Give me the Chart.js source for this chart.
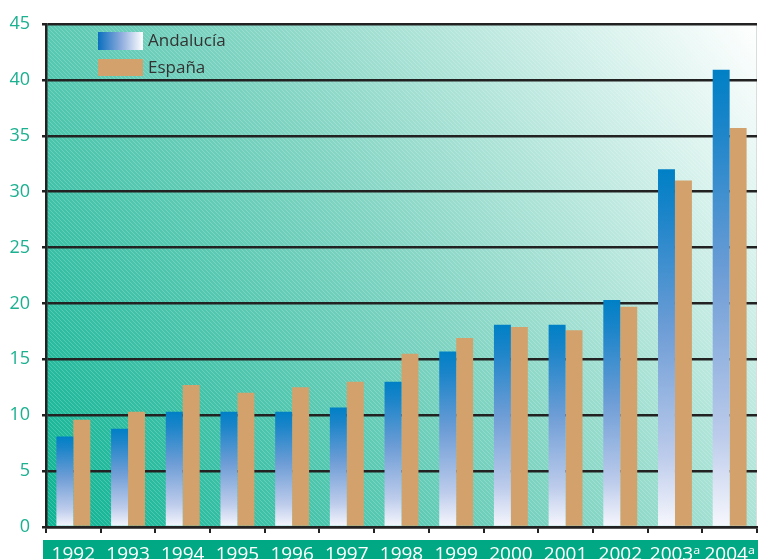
<!DOCTYPE html>
<html>
<head>
<meta charset="utf-8">
<script src="https://cdn.jsdelivr.net/npm/chart.js@4.4.1/dist/chart.umd.min.js"></script>
<style>
html,body{margin:0;padding:0;background:#fff;}
#wrap{width:758px;height:559px;position:relative;}
</style>
</head>
<body>
<div id="wrap"><canvas id="c" width="758" height="559"></canvas></div>
<script>
const years = ['1992','1993','1994','1995','1996','1997','1998','1999','2000','2001','2002','2003ᵃ','2004ᵃ'];
const andalucia = [8.1, 8.8, 10.3, 10.3, 10.3, 10.7, 13.0, 15.7, 18.1, 18.1, 20.3, 32.0, 40.9];
const espana = [9.6, 10.3, 12.7, 12.0, 12.5, 13.0, 15.5, 16.9, 17.9, 17.6, 19.7, 31.0, 35.7];
const yTicks = [0,5,10,15,20,25,30,35,40,45];
const seriesNames = ['Andalucía','España'];

const FONT = '"Open Sans", "Noto Sans", sans-serif';
const TEAL_TXT = '#1bb08f';
const ESP_COLOR = '#d3a26c';

function makePattern() {
  const p = document.createElement('canvas');
  p.width = 4; p.height = 4;
  const g = p.getContext('2d');
  g.strokeStyle = 'rgba(255,255,255,0.2)';
  g.lineWidth = 1;
  g.beginPath();
  g.moveTo(-1,-1); g.lineTo(5,5);
  g.moveTo(-1,3); g.lineTo(1,5);
  g.moveTo(3,-1); g.lineTo(5,1);
  g.stroke();
  return p;
}
const patCanvas = makePattern();

function andGradient(ctx) {
  const chart = ctx.chart;
  if (!chart.chartArea || !chart.scales.y) return '#0080c8';
  const v = ctx.raw;
  const y = chart.scales.y;
  const top = y.getPixelForValue(v);
  const bot = y.getPixelForValue(0);
  const g = chart.ctx.createLinearGradient(0, top, 0, bot);
  g.addColorStop(0, '#0080c6');
  g.addColorStop(0.12, '#1a84c9');
  g.addColorStop(0.45, '#6e9dd6');
  g.addColorStop(0.8, '#bccbeb');
  g.addColorStop(1, '#f7f7fd');
  return g;
}

const bgPlugin = {
  id: 'bgPlugin',
  beforeDraw(chart) {
    const {ctx, chartArea: a} = chart;
    ctx.save();
    const g = ctx.createLinearGradient(a.left, a.bottom, a.right, a.top);
    g.addColorStop(0, '#0cb393');
    g.addColorStop(0.5, '#80d4c2');
    g.addColorStop(1, '#ffffff');
    ctx.fillStyle = g;
    ctx.fillRect(a.left, a.top, a.right - a.left, a.bottom - a.top);
    ctx.fillStyle = ctx.createPattern(patCanvas, 'repeat');
    ctx.fillRect(a.left, a.top, a.right - a.left, a.bottom - a.top);
    ctx.fillStyle = '#00a983';
    ctx.fillRect(43, 540, chart.width - 43, chart.height - 540);
    ctx.fillStyle = '#d8dede';
    ctx.fillRect(a.right - 1, a.top, 1, a.bottom - a.top);
    ctx.restore();
  },
  afterDatasetsDraw(chart) {
    const {ctx, chartArea: a} = chart;
    ctx.save();
    const bx = a.left + 52, bw = 45, bh = 18;
    const rows = [a.top + 8, a.top + 35];
    const g = ctx.createLinearGradient(bx, 0, bx + bw, 0);
    g.addColorStop(0, '#0a6fbe');
    g.addColorStop(0.5, '#8aa9dc');
    g.addColorStop(1, '#ffffff');
    ctx.fillStyle = g;
    ctx.fillRect(bx, rows[0], bw, bh);
    ctx.fillStyle = ESP_COLOR;
    ctx.fillRect(bx, rows[1], bw, bh - 1);
    ctx.fillStyle = '#333333';
    ctx.font = '17px ' + FONT;
    ctx.textBaseline = 'middle';
    ctx.textAlign = 'left';
    ctx.fillText(seriesNames[0], bx + bw + 5, rows[0] + bh / 2);
    ctx.fillText(seriesNames[1], bx + bw + 5, rows[1] + bh / 2);
    ctx.restore();
  }
};

new Chart(document.getElementById('c'), {
  type: 'bar',
  data: {
    labels: years,
    datasets: [
      { label: seriesNames[0], data: andalucia, backgroundColor: andGradient, borderWidth: 0 },
      { label: seriesNames[1], data: espana, backgroundColor: ESP_COLOR, borderWidth: 0 }
    ]
  },
  options: {
    responsive: false,
    animation: false,
    devicePixelRatio: 1,
    layout: { padding: { left: 0, top: 24, right: 1, bottom: 0 } },
    datasets: { bar: { categoryPercentage: 0.62, barPercentage: 1.0 } },
    plugins: { legend: { display: false }, tooltip: { enabled: false } },
    scales: {
      x: {
        grid: { display: true, drawOnChartArea: false, drawTicks: true, tickLength: 6, color: '#222', lineWidth: 2, offset: true },
        border: { display: true, color: '#222', width: 2.5 },
        ticks: { color: '#ffffff', font: { family: FONT, size: 19 }, padding: 10, maxRotation: 0, autoSkip: false },
        afterFit(s) { s.height = 32; s.paddingLeft = 0; s.paddingRight = 0; }
      },
      y: {
        min: 0, max: 45,
        afterBuildTicks(s) { s.ticks = yTicks.map(v => ({ value: v })); },
        grid: { color: '#222', lineWidth: 2.5, tickLength: 4, drawTicks: true },
        border: { display: true, color: '#222', width: 2.5 },
        ticks: { color: TEAL_TXT, font: { family: FONT, size: 18 }, padding: 12 },
        afterFit(s) { s.width = 46; s.paddingTop = 0; s.paddingBottom = 0; }
      }
    }
  },
  plugins: [bgPlugin]
});
</script>
</body>
</html>
